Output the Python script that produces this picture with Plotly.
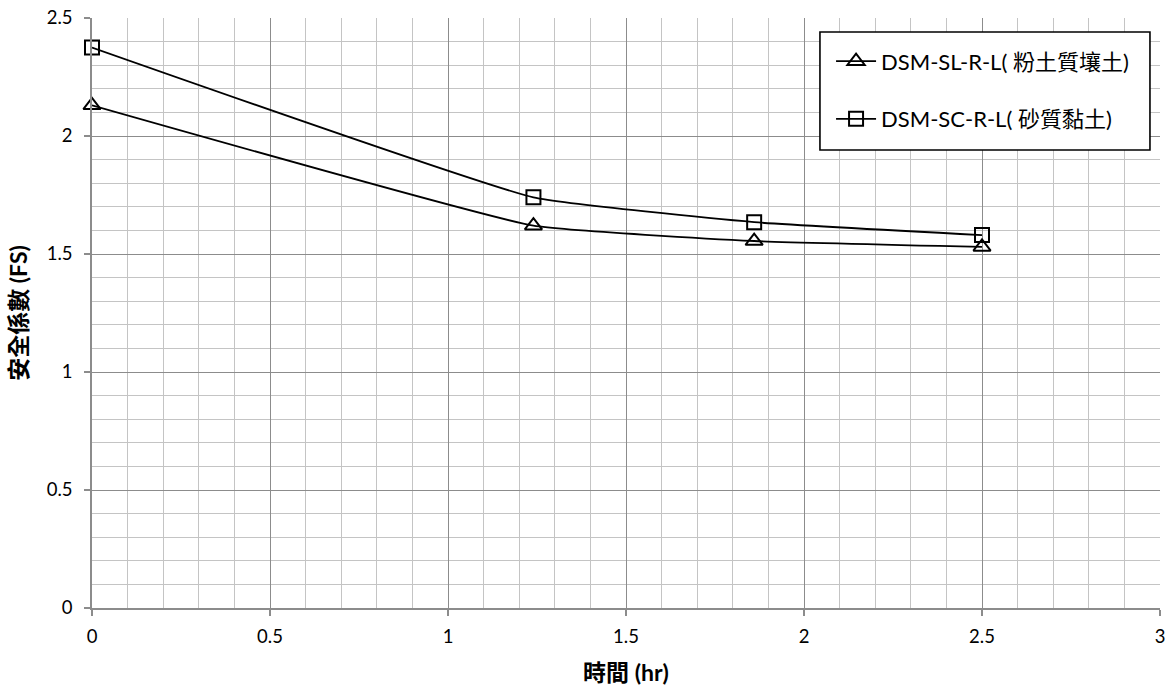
import plotly.graph_objects as go

# Time (hr) and factor of safety for each soil case
time_hr = [0, 1.24, 1.86, 2.5]
fs_silt_loam = [2.13, 1.62, 1.555, 1.53]
fs_sandy_clay = [2.375, 1.74, 1.635, 1.58]

series_names = ["DSM-SL-R-L( 粉土質壤土)", "DSM-SC-R-L( 砂質黏土)"]
x_ticks = [0, 0.5, 1, 1.5, 2, 2.5, 3]
y_ticks = [0, 0.5, 1, 1.5, 2, 2.5]

FONT = "Lato, 'Noto Sans CJK TC', sans-serif"
MAJOR_GRID = "#8c8c8c"
MINOR_GRID = "#c4c4c4"

fig = go.Figure()
for name, vals, sym, size, grp in [
    (series_names[0], fs_silt_loam, "triangle-up-open", 15, "a"),
    (series_names[1], fs_sandy_clay, "square-open", 14, "b"),
]:
    fig.add_trace(go.Scatter(
        x=time_hr, y=vals, name=name, mode="lines+markers",
        legendgroup=grp, cliponaxis=False,
        line=dict(color="black", width=1.8, shape="spline", smoothing=0.35),
        marker=dict(symbol=sym, size=size, color="black",
                    line=dict(color="black", width=2)),
    ))

axis_common = dict(
    showline=True, linecolor=MAJOR_GRID, linewidth=1.5,
    showgrid=True, gridcolor=MAJOR_GRID, gridwidth=1.3,
    zeroline=False, ticks="outside", ticklen=6, tickcolor=MAJOR_GRID,
    tickwidth=1.5, tickfont=dict(family=FONT, size=18.5, color="black"),
    mirror=False,
)

fig.update_xaxes(
    range=[0, 3], tickvals=x_ticks, ticktext=[f"{v:g}" for v in x_ticks],
    minor=dict(dtick=0.1, tick0=0, showgrid=True, gridcolor=MINOR_GRID,
               gridwidth=1.3, ticks=""),
    ticklabelstandoff=5,
    title=dict(text="時間 (hr)", standoff=19,
               font=dict(family=FONT, size=23, color="black", weight="bold")),
    **axis_common,
)
fig.update_yaxes(
    range=[0, 2.5], tickvals=y_ticks, ticktext=[f"{v:g}" for v in y_ticks],
    minor=dict(dtick=0.1, tick0=0, showgrid=True, gridcolor=MINOR_GRID,
               gridwidth=1.3, ticks=""),
    ticklabelstandoff=8,
    title=dict(text="安全係數 (FS)", standoff=13,
               font=dict(family=FONT, size=23, color="black", weight="bold")),
    **axis_common,
)

# Framed white panel behind the legend entries
fig.add_shape(
    type="rect", xref="paper", yref="paper",
    x0=0.6816, x1=0.9906, y0=0.7763, y1=0.9763,
    fillcolor="white", line=dict(color="black", width=1.6), layer="above",
)

fig.update_layout(
    width=1172, height=691,
    margin=dict(l=92, r=12, t=18, b=83, autoexpand=False),
    paper_bgcolor="white", plot_bgcolor="white",
    font=dict(family=FONT, size=18, color="black"),
    showlegend=True,
    legend=dict(
        x=0.692, y=0.962, xanchor="left", yanchor="top",
        bgcolor="rgba(0,0,0,0)", borderwidth=0,
        font=dict(family=FONT, size=22, color="black"),
        traceorder="grouped", tracegroupgap=26,
        itemwidth=40,
    ),
)

fig.write_html("out.html")
